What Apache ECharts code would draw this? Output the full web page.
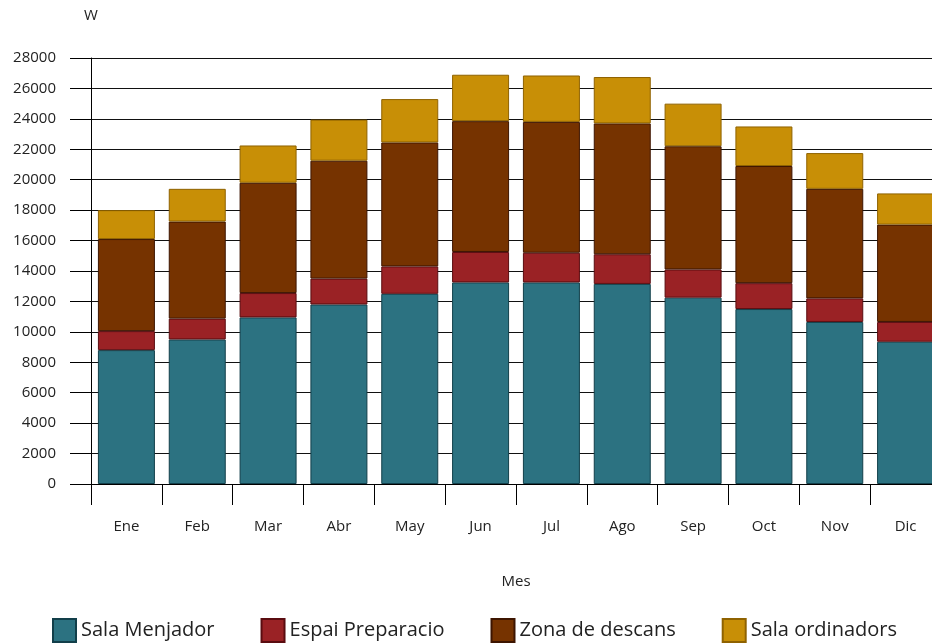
<!DOCTYPE html>
<html>
<head>
<meta charset="utf-8">
<script src="https://cdn.jsdelivr.net/npm/echarts@6/dist/echarts.min.js"></script>
<style>
  html, body { margin: 0; padding: 0; background: #fff; overflow: hidden; }
  /* the plot runs slightly past the right edge of the window */
  #chart { width: 941px; height: 643px; }
</style>
</head>
<body>
<div id="chart"></div>
<script>
// Monthly power demand by room (W), stacked
const months = ['Ene', 'Feb', 'Mar', 'Abr', 'May', 'Jun', 'Jul', 'Ago', 'Sep', 'Oct', 'Nov', 'Dic'];
const salaMenjador    = [8800, 9500, 10950, 11800, 12500, 13250, 13250, 13150, 12250, 11500, 10650, 9350];
const espaiPreparacio = [1250, 1370, 1600, 1700, 1800, 2000, 1950, 1950, 1850, 1700, 1550, 1300];
const zonaDescans     = [6050, 6380, 7250, 7750, 8150, 8600, 8600, 8600, 8100, 7700, 7200, 6400];
const salaOrdinadors  = [1900, 2150, 2450, 2700, 2850, 3050, 3050, 3050, 2800, 2600, 2350, 2050];

const FONT = 'Open Sans';
const TEXT = '#222';

function bar(name, data, fill, edge) {
  return {
    name: name,
    type: 'bar',
    stack: 'total',
    data: data,
    barWidth: 57,
    itemStyle: { color: fill, borderColor: edge, borderWidth: 1 },
    emphasis: { disabled: true }
  };
}

const chart = echarts.init(document.getElementById('chart'), null, { renderer: 'canvas' });
chart.setOption({
  animation: false,
  backgroundColor: '#fff',
  textStyle: { fontFamily: FONT, color: TEXT },
  grid: { left: 91, top: 58, right: 0, bottom: 159, containLabel: false },
  legend: {
    left: 52,
    top: 618,
    padding: 0,
    itemWidth: 23,
    itemHeight: 23,
    itemGap: 46,
    icon: 'rect',
    textStyle: { fontFamily: FONT, fontSize: 20, color: TEXT },
    data: ['Sala Menjador', 'Espai Preparacio', 'Zona de descans', 'Sala ordinadors']
  },
  xAxis: {
    type: 'category',
    data: months,
    boundaryGap: true,
    name: 'Mes',
    nameLocation: 'middle',
    nameGap: 90,
    nameTextStyle: { fontFamily: FONT, fontSize: 15, color: TEXT },
    axisLine: { show: true, lineStyle: { color: '#000', width: 1 } },
    axisTick: { show: true, length: 21, inside: false, alignWithLabel: false, lineStyle: { color: '#000' } },
    axisLabel: { margin: 35, fontFamily: FONT, fontSize: 15, color: TEXT },
    splitLine: { show: false }
  },
  yAxis: {
    type: 'value',
    min: 0,
    max: 28000,
    interval: 2000,
    name: 'W',
    nameLocation: 'end',
    nameGap: 35,
    nameTextStyle: { fontFamily: FONT, fontSize: 15, color: TEXT, align: 'center' },
    axisLine: { show: true, lineStyle: { color: '#000', width: 1 } },
    axisTick: { show: true, length: 21, inside: false, lineStyle: { color: '#000' } },
    axisLabel: { margin: 35, fontFamily: FONT, fontSize: 15, color: TEXT, formatter: v => String(v) },
    splitLine: { show: true, lineStyle: { color: '#111', width: 1 } }
  },
  series: [
    bar('Sala Menjador', salaMenjador, '#2c7281', '#123f4a'),
    bar('Espai Preparacio', espaiPreparacio, '#9a2225', '#5a0c10'),
    bar('Zona de descans', zonaDescans, '#763300', '#3d1500'),
    bar('Sala ordinadors', salaOrdinadors, '#c88f06', '#8f6200')
  ]
});
</script>
</body>
</html>
